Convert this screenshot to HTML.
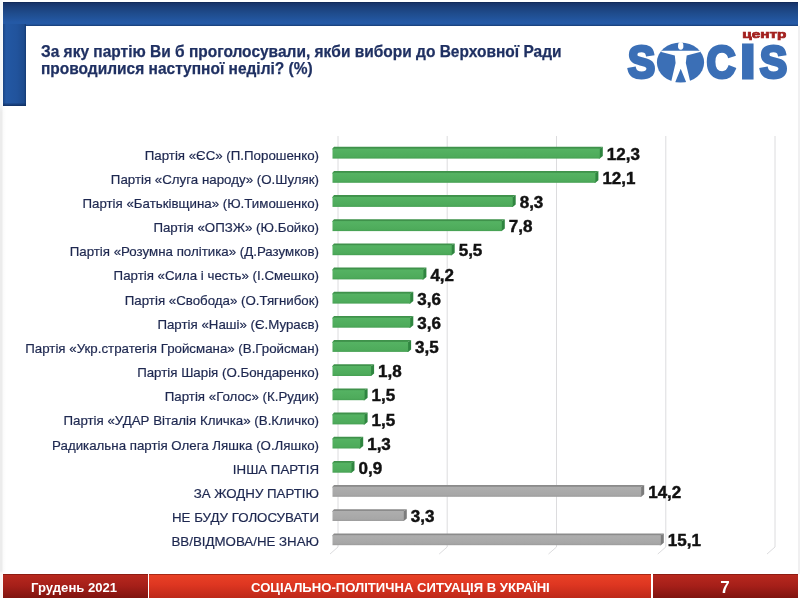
<!DOCTYPE html>
<html lang="uk"><head><meta charset="utf-8"><title>SOCIS</title>
<style>
html,body{margin:0;padding:0;}
body{width:800px;height:598px;position:relative;overflow:hidden;background:#fff;font-family:"Liberation Sans",sans-serif;}
.edgeL{position:absolute;left:0;top:0;width:6px;height:598px;background:linear-gradient(90deg,rgba(255,255,255,0) 2px,rgba(255,255,255,.75) 3px,#fff 6px),linear-gradient(#f6f9fb 0,#f3f6f8 104px,#ececec 112px,#ececec 571px,#fbf6f5 573px,#fbf6f5 100%);}
.edgeR{position:absolute;left:797.6px;top:26px;width:2.4px;height:548px;background:#f0f0f1;}
.topbar{position:absolute;left:2.5px;top:2px;width:795.2px;height:23.5px;background:linear-gradient(#0e2450 0,#17346a 1.2px,#1b3f7a 5px,#1f4d8e 12px,#2459a5 20px,#2459a5 23.5px);}
.topedge{position:absolute;left:24.5px;top:23.5px;width:773.2px;height:2px;background:linear-gradient(rgba(27,68,127,0),rgba(22,58,112,.9));}
.leftbar{position:absolute;left:2.5px;top:24px;width:23px;height:81.5px;background:linear-gradient(rgba(15,45,95,0) 0,rgba(15,45,95,0) 78.5px,rgba(15,45,95,.8) 81.5px),linear-gradient(90deg,#1a4585 0,#2358a4 3px,#21539c 14px,#1d4b8e 21px,#143a74 23px);}
.title{position:absolute;left:41px;top:42.5px;font-weight:bold;font-size:16.2px;line-height:17.3px;color:#1f3062;white-space:nowrap;transform:scaleX(.957);transform-origin:0 0;-webkit-text-stroke:0.25px #1f3062;}
.chart{position:absolute;left:0;top:0;}
.lab{position:absolute;right:481px;font-size:13.3px;line-height:18px;color:#1e2850;white-space:nowrap;text-align:right;-webkit-text-stroke:0.2px #1e2850;}
.val{position:absolute;font-weight:bold;font-size:17px;line-height:20px;color:#111;white-space:nowrap;-webkit-text-stroke:0.45px #111;}
.foot{box-shadow:inset 0 1px 0 rgba(90,10,5,.45);position:absolute;top:573.5px;height:24.5px;color:#fff;font-weight:bold;font-size:13.1px;line-height:27px;text-align:center;white-space:nowrap;}
.f1{left:2.5px;width:145.2px;background:linear-gradient(#b9291f,#a51f19 50%,#80140f);text-indent:-2px;}
.f2{left:148.6px;width:502.6px;background:linear-gradient(#e94226,#de3621 45%,#bd2819);text-indent:1px;}
.f3{left:652.5px;width:145.2px;background:linear-gradient(#b9291f,#a51f19 50%,#80140f);font-size:17px;line-height:27.5px;}
.logo{position:absolute;left:600px;top:20px;}
</style></head><body>
<div class="edgeL"></div>
<div class="edgeR"></div>
<div class="topbar"></div>
<div class="leftbar"></div>
<div class="topedge"></div>
<div class="title">За яку партію Ви б проголосували, якби вибори до Верховної Ради<br>проводилися наступної неділі? (%)</div>
<svg class="logo" width="200" height="80" viewBox="600 20 200 80" role="img" aria-label="центр SOCIS"><title>центр SOCIS</title>
<g font-family="'Liberation Sans',sans-serif" font-weight="bold" font-size="44" fill="#3b6fb6" stroke="#3b6fb6" stroke-width="3" stroke-linejoin="miter">
<text transform="translate(627.67 77.73) scale(0.936 1.035)">S</text>
<text transform="translate(706.44 77.65) scale(0.916 1.051)">C</text>
<text transform="translate(740.15 77.68) scale(1.232 1.082)">I</text>
<text transform="translate(759.77 77.62) scale(0.936 1.038)">S</text>
</g>
<ellipse cx="680.5" cy="62.5" rx="23.6" ry="20.1" fill="#3b6fb6"/>
<g fill="#fff">
<ellipse cx="680.7" cy="45.9" rx="2.7" ry="3.8"/>
<path d="M661.3 50.7H700V51.9L686.7 55.6L685.8 63L690.3 82L686.6 83.2L680.7 68.7L674.8 83.2L671.1 82L675.6 63L674.8 55.6L661.3 51.9Z"/>
</g>
<text x="742.3" y="37.8" font-family="'Liberation Sans',sans-serif" font-weight="bold" font-size="11.6" fill="#a3211f" stroke="#a3211f" stroke-width="0.7" textLength="44" lengthAdjust="spacingAndGlyphs">центр</text>
</svg>
<svg class="chart" width="800" height="598" viewBox="0 0 800 598">
<defs><linearGradient id="gf" x1="0" y1="0" x2="0" y2="1"><stop offset="0" stop-color="#55b363"/><stop offset="0.8" stop-color="#4eab5b"/><stop offset="1" stop-color="#46a053"/></linearGradient>
<linearGradient id="xf" x1="0" y1="0" x2="0" y2="1"><stop offset="0" stop-color="#aeaeae"/><stop offset="0.8" stop-color="#a7a7a7"/><stop offset="1" stop-color="#9c9c9c"/></linearGradient></defs>
<path d="M338.0 136V547L330.0 554" fill="none" stroke="#dcdcde" stroke-width="1"/>
<path d="M447.2 136V547L439.2 554" fill="none" stroke="#dcdcde" stroke-width="1"/>
<path d="M556.5 136V547L548.5 554" fill="none" stroke="#dcdcde" stroke-width="1"/>
<path d="M665.8 136V547L657.8 554" fill="none" stroke="#dcdcde" stroke-width="1"/>
<path d="M775.0 136V547L767.0 554" fill="none" stroke="#dcdcde" stroke-width="1"/>
<path d="M332.5 149.6V148.6L334.0 146.8H602.8L599.8 148.6V149.6Z" fill="#3f924b"/>
<path d="M598.8 148.6H599.8L602.8 146.8V156.1L599.8 158.6H598.8Z" fill="#2f8540"/>
<rect x="332.5" y="148.6" width="267.3" height="10.0" fill="url(#gf)"/>
<path d="M332.5 173.8V172.8L334.0 171.0H598.4L595.4 172.8V173.8Z" fill="#3f924b"/>
<path d="M594.4 172.8H595.4L598.4 171.0V180.3L595.4 182.8H594.4Z" fill="#2f8540"/>
<rect x="332.5" y="172.8" width="262.9" height="10.0" fill="url(#gf)"/>
<path d="M332.5 197.9V196.9L334.0 195.1H515.7L512.7 196.9V197.9Z" fill="#3f924b"/>
<path d="M511.7 196.9H512.7L515.7 195.1V204.4L512.7 206.9H511.7Z" fill="#2f8540"/>
<rect x="332.5" y="196.9" width="180.2" height="10.0" fill="url(#gf)"/>
<path d="M332.5 222.1V221.1L334.0 219.3H504.8L501.8 221.1V222.1Z" fill="#3f924b"/>
<path d="M500.8 221.1H501.8L504.8 219.3V228.6L501.8 231.1H500.8Z" fill="#2f8540"/>
<rect x="332.5" y="221.1" width="169.3" height="10.0" fill="url(#gf)"/>
<path d="M332.5 246.2V245.2L334.0 243.4H454.7L451.7 245.2V246.2Z" fill="#3f924b"/>
<path d="M450.7 245.2H451.7L454.7 243.4V252.7L451.7 255.2H450.7Z" fill="#2f8540"/>
<rect x="332.5" y="245.2" width="119.2" height="10.0" fill="url(#gf)"/>
<path d="M332.5 270.4V269.4L334.0 267.6H426.4L423.4 269.4V270.4Z" fill="#3f924b"/>
<path d="M422.4 269.4H423.4L426.4 267.6V276.9L423.4 279.4H422.4Z" fill="#2f8540"/>
<rect x="332.5" y="269.4" width="90.9" height="10.0" fill="url(#gf)"/>
<path d="M332.5 294.6V293.6L334.0 291.8H413.3L410.3 293.6V294.6Z" fill="#3f924b"/>
<path d="M409.3 293.6H410.3L413.3 291.8V301.1L410.3 303.6H409.3Z" fill="#2f8540"/>
<rect x="332.5" y="293.6" width="77.8" height="10.0" fill="url(#gf)"/>
<path d="M332.5 318.7V317.7L334.0 315.9H413.3L410.3 317.7V318.7Z" fill="#3f924b"/>
<path d="M409.3 317.7H410.3L413.3 315.9V325.2L410.3 327.7H409.3Z" fill="#2f8540"/>
<rect x="332.5" y="317.7" width="77.8" height="10.0" fill="url(#gf)"/>
<path d="M332.5 342.9V341.9L334.0 340.1H411.1L408.1 341.9V342.9Z" fill="#3f924b"/>
<path d="M407.1 341.9H408.1L411.1 340.1V349.4L408.1 351.9H407.1Z" fill="#2f8540"/>
<rect x="332.5" y="341.9" width="75.6" height="10.0" fill="url(#gf)"/>
<path d="M332.5 367.0V366.0L334.0 364.2H374.1L371.1 366.0V367.0Z" fill="#3f924b"/>
<path d="M370.1 366.0H371.1L374.1 364.2V373.5L371.1 376.0H370.1Z" fill="#2f8540"/>
<rect x="332.5" y="366.0" width="38.6" height="10.0" fill="url(#gf)"/>
<path d="M332.5 391.2V390.2L334.0 388.4H367.6L364.6 390.2V391.2Z" fill="#3f924b"/>
<path d="M363.6 390.2H364.6L367.6 388.4V397.7L364.6 400.2H363.6Z" fill="#2f8540"/>
<rect x="332.5" y="390.2" width="32.1" height="10.0" fill="url(#gf)"/>
<path d="M332.5 415.4V414.4L334.0 412.6H367.6L364.6 414.4V415.4Z" fill="#3f924b"/>
<path d="M363.6 414.4H364.6L367.6 412.6V421.9L364.6 424.4H363.6Z" fill="#2f8540"/>
<rect x="332.5" y="414.4" width="32.1" height="10.0" fill="url(#gf)"/>
<path d="M332.5 439.5V438.5L334.0 436.7H363.2L360.2 438.5V439.5Z" fill="#3f924b"/>
<path d="M359.2 438.5H360.2L363.2 436.7V446.0L360.2 448.5H359.2Z" fill="#2f8540"/>
<rect x="332.5" y="438.5" width="27.7" height="10.0" fill="url(#gf)"/>
<path d="M332.5 463.7V462.7L334.0 460.9H354.5L351.5 462.7V463.7Z" fill="#3f924b"/>
<path d="M350.5 462.7H351.5L354.5 460.9V470.2L351.5 472.7H350.5Z" fill="#2f8540"/>
<rect x="332.5" y="462.7" width="19.0" height="10.0" fill="url(#gf)"/>
<path d="M332.5 487.8V486.8L334.0 485.0H644.2L641.2 486.8V487.8Z" fill="#8b8b8b"/>
<path d="M640.2 486.8H641.2L644.2 485.0V494.3L641.2 496.8H640.2Z" fill="#7c7c7c"/>
<rect x="332.5" y="486.8" width="308.7" height="10.0" fill="url(#xf)"/>
<path d="M332.5 512.0V511.0L334.0 509.2H406.8L403.8 511.0V512.0Z" fill="#8b8b8b"/>
<path d="M402.8 511.0H403.8L406.8 509.2V518.5L403.8 521.0H402.8Z" fill="#7c7c7c"/>
<rect x="332.5" y="511.0" width="71.3" height="10.0" fill="url(#xf)"/>
<path d="M332.5 536.2V535.2L334.0 533.4H663.8L660.8 535.2V536.2Z" fill="#8b8b8b"/>
<path d="M659.8 535.2H660.8L663.8 533.4V542.7L660.8 545.2H659.8Z" fill="#7c7c7c"/>
<rect x="332.5" y="535.2" width="328.3" height="10.0" fill="url(#xf)"/>
</svg>
<div class="lab" style="top:146.6px">Партія «ЄС» (П.Порошенко)</div>
<div class="val" style="top:144.7px;left:606.8px">12,3</div>
<div class="lab" style="top:170.8px">Партія «Слуга народу» (О.Шуляк)</div>
<div class="val" style="top:168.9px;left:602.4px">12,1</div>
<div class="lab" style="top:194.9px">Партія «Батьківщина» (Ю.Тимошенко)</div>
<div class="val" style="top:193.0px;left:519.7px">8,3</div>
<div class="lab" style="top:219.1px">Партія «ОПЗЖ» (Ю.Бойко)</div>
<div class="val" style="top:217.2px;left:508.8px">7,8</div>
<div class="lab" style="top:243.2px">Партія «Розумна політика» (Д.Разумков)</div>
<div class="val" style="top:241.3px;left:458.7px">5,5</div>
<div class="lab" style="top:267.4px">Партія «Сила і честь» (І.Смешко)</div>
<div class="val" style="top:265.5px;left:430.4px">4,2</div>
<div class="lab" style="top:291.6px">Партія «Свобода» (О.Тягнибок)</div>
<div class="val" style="top:289.7px;left:417.3px">3,6</div>
<div class="lab" style="top:315.7px">Партія «Наші» (Є.Мураєв)</div>
<div class="val" style="top:313.8px;left:417.3px">3,6</div>
<div class="lab" style="top:339.9px">Партія «Укр.стратегія Гройсмана» (В.Гройсман)</div>
<div class="val" style="top:338.0px;left:415.1px">3,5</div>
<div class="lab" style="top:364.0px">Партія Шарія (О.Бондаренко)</div>
<div class="val" style="top:362.1px;left:378.1px">1,8</div>
<div class="lab" style="top:388.2px">Партія «Голос» (К.Рудик)</div>
<div class="val" style="top:386.3px;left:371.6px">1,5</div>
<div class="lab" style="top:412.4px">Партія «УДАР Віталія Кличка» (В.Кличко)</div>
<div class="val" style="top:410.5px;left:371.6px">1,5</div>
<div class="lab" style="top:436.5px">Радикальна партія Олега Ляшка (О.Ляшко)</div>
<div class="val" style="top:434.6px;left:367.2px">1,3</div>
<div class="lab" style="top:460.7px">ІНША ПАРТІЯ</div>
<div class="val" style="top:458.8px;left:358.5px">0,9</div>
<div class="lab" style="top:484.8px">ЗА ЖОДНУ ПАРТІЮ</div>
<div class="val" style="top:482.9px;left:648.2px">14,2</div>
<div class="lab" style="top:509.0px">НЕ БУДУ ГОЛОСУВАТИ</div>
<div class="val" style="top:507.1px;left:410.8px">3,3</div>
<div class="lab" style="top:533.2px">ВВ/ВІДМОВА/НЕ ЗНАЮ</div>
<div class="val" style="top:531.3px;left:667.8px">15,1</div>
<div class="foot f1">Грудень 2021</div>
<div class="foot f2">СОЦІАЛЬНО-ПОЛІТИЧНА СИТУАЦІЯ В УКРАЇНІ</div>
<div class="foot f3">7</div>
</body></html>
